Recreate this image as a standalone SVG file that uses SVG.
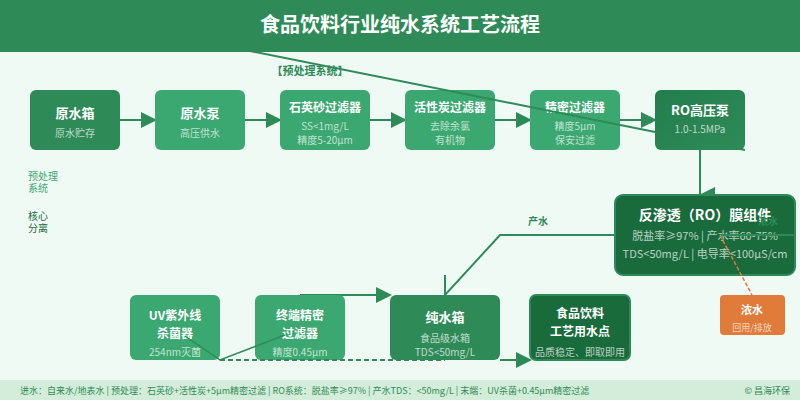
<svg xmlns="http://www.w3.org/2000/svg" width="800" height="400" viewBox="0 0 800 400">
<style>
text{font-family:"Noto Sans CJK SC","Noto Sans",sans-serif;text-anchor:middle}
.t{font-size:12px;font-weight:700;fill:#fff}
.t2{font-size:13px;font-weight:700;fill:#fff}
.s{font-size:10px;fill:#fff;fill-opacity:.7}
.m{font-size:11px;fill:#fff;fill-opacity:.7}
.l{fill:none;stroke:#2e8b57;stroke-width:2}
.st{text-anchor:start}
</style>
<defs>
<linearGradient id="g" x1="0" y1="0" x2="1" y2="1"><stop offset="0" stop-color="#237d4d"/><stop offset="1" stop-color="#2e8b57"/></linearGradient>
<marker id="m" markerUnits="userSpaceOnUse" markerWidth="18" markerHeight="18" refX="14" refY="9" orient="auto"><path d="M0 1L16 9L0 17Z" fill="#2e8b57"/></marker>
</defs>
<rect width="800" height="400" fill="#f0faf5"/>
<g id="connectors">
<path class="l" d="M120 120H155" marker-end="url(#m)"/>
<path class="l" d="M245 120H280" marker-end="url(#m)"/>
<path class="l" d="M370 120H405" marker-end="url(#m)"/>
<path class="l" d="M495 120H530" marker-end="url(#m)"/>
<path class="l" d="M620 120H655" marker-end="url(#m)"/>
</g>
<g id="n1"><rect x="30" y="90" width="90" height="60" rx="6" fill="#2e8b57"/><text class="t2" x="75" y="118">原水箱</text><text class="s" x="75" y="136.500">原水贮存</text></g>
<g id="n2"><rect x="155" y="90" width="90" height="60" rx="6" fill="#3aa870"/><text class="t2" x="200" y="118">原水泵</text><text class="s" x="200" y="136.500">高压供水</text></g>
<g id="n3"><rect x="280" y="90" width="90" height="60" rx="6" fill="#3aa870"/><text class="t" x="325" y="112">石英砂过滤器</text><text class="s" x="325" y="130">SS&lt;1mg/L</text><text class="s" x="325" y="144">精度5-20μm</text></g>
<g id="n4"><rect x="405" y="90" width="90" height="60" rx="6" fill="#3aa870"/><text class="t" x="450" y="112">活性炭过滤器</text><text class="s" x="450" y="130">去除余氯</text><text class="s" x="450" y="144">有机物</text></g>
<g id="n5"><rect x="530" y="90" width="90" height="60" rx="6" fill="#3aa870"/><text class="t" x="575" y="112">精密过滤器</text><text class="s" x="575" y="130">精度5μm</text><text class="s" x="575" y="144">保安过滤</text></g>
<path class="l" d="M245 50L745 150"/>
<g id="n6"><rect x="655" y="90" width="90" height="60" rx="6" fill="url(#g)"/><text class="t2" x="700" y="115">RO高压泵</text><text class="s" x="700" y="133">1.0-1.5MPa</text></g>
<path class="l" d="M700 150V195"/>
<path d="M715 187V203L699 195Z" fill="#2e8b57"/>
<g id="n7"><rect x="615" y="195" width="180" height="80" rx="8" fill="#1a6b3c" stroke="#2e8b57" stroke-width="2"/><text x="705" y="220" font-size="14" font-weight="700" fill="#fff">反渗透（RO）膜组件</text><text class="m" x="705" y="240">脱盐率≥97% | 产水率60-75%</text><text class="m" x="705" y="258">TDS&lt;50mg/L | 电导率&lt;100μS/cm</text></g>
<path class="l" d="M720 235H795"/>
<text x="768" y="225" font-size="10" font-weight="700" fill="#2e8b57">浓水</text>
<path d="M720 235L752 295" fill="none" stroke="#e07b39" stroke-width="1.5" stroke-dasharray="4 2"/>
<g id="n8"><rect x="720" y="295" width="65" height="40" rx="4" fill="#e07b39"/><text x="752" y="314" font-size="11" font-weight="700" fill="#fff">浓水</text><text x="752" y="331" font-size="9" fill="#fff" fill-opacity=".7">回用/排放</text></g>
<path class="l" d="M615 235H500L445 295V275"/>
<text x="538" y="225" font-size="10" font-weight="700" fill="#2e8b57">产水</text>
<path class="l" d="M300 295H390" marker-end="url(#m)"/>
<g id="n9"><rect x="130" y="295" width="90" height="65" rx="6" fill="#3aa870"/><text class="t" x="175" y="320">UV紫外线</text><text class="t" x="175" y="338">杀菌器</text><text class="s" x="175" y="356">254nm灭菌</text></g>
<g id="n10"><rect x="255" y="295" width="90" height="65" rx="6" fill="#3aa870"/><text class="t" x="300" y="320">终端精密</text><text class="t" x="300" y="338">过滤器</text><text class="s" x="300" y="356">精度0.45μm</text></g>
<path d="M185 336L220 360L285 335" fill="none" stroke="#2e8b57" stroke-width="1.500"/>
<g id="n11"><rect x="390" y="295" width="110" height="65" rx="6" fill="#2e8b57"/><text class="t2" x="445" y="322">纯水箱</text><text class="s" x="445" y="342">食品级水箱</text><text class="s" x="445" y="356">TDS&lt;50mg/L</text></g>
<path class="l" d="M220 360H445" stroke-dasharray="5 3"/>
<g id="n12"><rect x="530" y="295" width="100" height="65" rx="6" fill="#1a6b3c" stroke="#2e8b57" stroke-width="2"/><text class="t" x="580" y="318">食品饮料</text><text class="t" x="580" y="336">工艺用水点</text><text class="s" x="580" y="356">品质稳定、即取即用</text></g>
<path class="l" d="M500 360H530" marker-end="url(#m)"/>
<text x="310" y="75" font-size="11" font-weight="700" fill="#2e8b57">【预处理系统】</text>
<g font-size="10" fill="#3aa870"><text class="st" x="28" y="180">预处理</text><text class="st" x="28" y="192">系统</text></g>
<g font-size="10" fill="#1a6b3c"><text class="st" x="28" y="220">核心</text><text class="st" x="28" y="232">分离</text></g>
<g id="title"><rect width="800" height="52" fill="#2e8b57"/><text x="400" y="32" font-size="20" font-weight="700" fill="#fff">食品饮料行业纯水系统工艺流程</text></g>
<g id="footer"><rect y="380" width="800" height="20" fill="#d4edda"/><text class="st" x="20" y="394" font-size="9" fill="#2e8b57">进水：自来水/地表水 | 预处理：石英砂+活性炭+5μm精密过滤 | RO系统：脱盐率≥97% | 产水TDS：&lt;50mg/L | 末端：UV杀菌+0.45μm精密过滤</text><text x="790" y="394" font-size="9" fill="#2e8b57" style="text-anchor:end">© 昌海环保</text></g>
</svg>
